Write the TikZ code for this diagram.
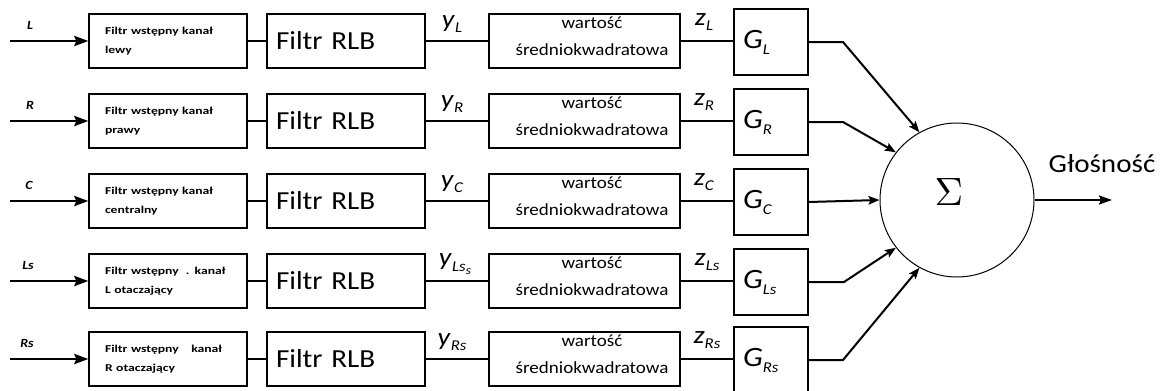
\documentclass[tikz,border=0pt]{standalone}
\usepackage{fontspec}
\usepackage{graphicx}
\setmainfont{Carlito}[FakeStretch=1.12]
\newfontfamily\prefont{Carlito}[FakeStretch=1.3]
\usetikzlibrary{arrows.meta}
\newcommand{\sublab}[2]{\textit{#1}\raisebox{-0.45ex}{\fontsize{15}{15}\selectfont\textit{#2}}}
\begin{document}
\begin{tikzpicture}[x=1pt,y=-1pt,
  boxbase/.style={draw, line width=1.3pt, inner ysep=0pt, anchor=center},
  prebox/.style={boxbase, minimum width=158pt, minimum height=54pt, text width=126pt, inner xsep=16pt, align=left,
     font=\prefont\bfseries\fontsize{10.5}{18.5}\selectfont},
  rlbbox/.style={boxbase, minimum width=158pt, minimum height=54pt, text width=140pt, inner xsep=9pt, align=left,
     font=\fontsize{26}{28}\selectfont},
  wbox/.style={boxbase, minimum width=191pt, minimum height=54pt, inner sep=0pt},
  wtext/.style={inner sep=0pt, align=center, font=\fontsize{17}{27}\selectfont},
  gbox/.style={boxbase, minimum width=74pt, minimum height=66pt, text width=56pt, inner xsep=9pt, align=left,
     font=\fontsize{28}{30}\selectfont},
  ylab/.style={inner sep=0pt, font=\fontsize{25}{27}\selectfont},
  inlab/.style={inner sep=0pt, font=\bfseries\itshape\fontsize{12.5}{14}\selectfont},
  conn/.style={line width=1.3pt},
  inarr/.style={line width=2.8pt, -{Stealth[length=14pt,width=10pt,inset=2pt]}},
  garr/.style={line width=2pt, -{Stealth[length=11pt,width=8.5pt,inset=2pt]}},
]
\useasboundingbox (0,0) rectangle (1160,391);
\fill[white] (0,0) rectangle (1160,391);

\foreach \i/\r/\ch/\pre/\lab/\lx in {
  1/41/L/{Filtr wstępny kanał\\lewy}/L/30,
  2/121/R/{Filtr wstępny kanał\\prawy}/R/30,
  3/201/C/{Filtr wstępny kanał\\centralny}/C/29,
  4/281/Ls/{Filtr wstępny\ \ . kanał\\L otaczający}/Ls/28,
  5/359/Rs/{Filtr wstępny\hspace{9pt} kanał\\R otaczający}/Rs/27}{
  \coordinate (in\i) at (10,\r);
  \node[inlab] (il\i) at (\lx,\r-16) {\lab};
  \node[prebox] (p\i) at (168,\r) {\pre};
  \node[rlbbox] (f\i) at (346,\r) {Filtr RLB};
  \node[wbox] (w\i) at (584.5,\r) {};
  \node[wtext] (wt\i) at (592,\r-4.5) {wartość\\średniokwadratowa};
  \node[gbox] (g\i) at (771,\r+1) {\sublab{G}{\ch}};
  \draw[inarr] (in\i) -- (p\i.west);
  \draw[conn] (p\i.east) -- (f\i.west);
  \draw[conn] (f\i.east) -- (f\i.east -| w\i.west);
  \draw[conn] (w\i.east) -- (w\i.east -| g\i.west);
}
% y labels
\node[ylab] (y1) at (452,24) {\sublab{y}{L}};
\node[ylab] (y2) at (452,104) {\sublab{y}{R}};
\node[ylab] (y3) at (452,184) {\sublab{y}{C}};
\node[ylab] (y4) at (455,264) {\textit{y}\raisebox{-0.45ex}{\fontsize{15}{15}\selectfont\textit{Ls}\raisebox{-0.4ex}{\fontsize{12}{12}\selectfont\textit{s}}}};
\node[ylab] (y5) at (452,342) {\sublab{y}{Rs}};
% z labels
\node[ylab] (z1) at (704,22) {\sublab{z}{L}};
\node[ylab] (z2) at (704,102) {\sublab{z}{R}};
\node[ylab] (z3) at (704,182) {\sublab{z}{C}};
\node[ylab] (z4) at (707,262) {\sublab{z}{Ls}};
\node[ylab] (z5) at (707,340) {\sublab{z}{Rs}};

% summing node
\node[draw, circle, line width=1pt, minimum size=154pt, inner sep=0pt] (s) at (957,200) {};
\node[inner sep=0pt] (sig) at (949,192) {\resizebox{!}{27pt}{$\Sigma$}};

\coordinate (k1) at (843,42);
\coordinate (k2) at (843,122);
\coordinate (k4) at (844,282);
\coordinate (k5) at (843,360);
\draw[garr] (g1.east) -- (k1) -- (s.119);
\draw[garr] (g2.east) -- (k2) -- (s.142);
\draw[garr] (g3.east) -- (s.west);
\draw[garr] (g4.east) -- (k4) -- (s.218);
\draw[garr] (g5.east) -- (k5) -- (s.241);

\coordinate (out) at (1112,200);
\draw[line width=2.2pt, -{Stealth[length=13pt,width=9pt,inset=2pt]}] (s.east) -- (out);
\node[inner sep=0pt, font=\fontsize{26}{28}\selectfont] (gl) at (1102,164) {Głośność};
\end{tikzpicture}
\end{document}
